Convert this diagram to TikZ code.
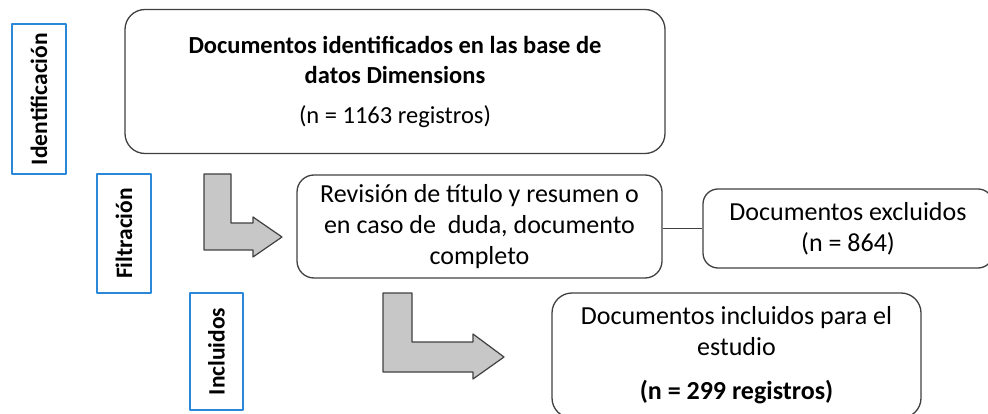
\documentclass[tikz,border=0pt]{standalone}
\usepackage{fontspec}
\setmainfont{Carlito}
\definecolor{azul}{HTML}{2B87D8}
\begin{document}
\begin{tikzpicture}[x=1pt, y=-1pt, line join=round,
	caja/.style={draw=black!75, line width=1.3pt, rounded corners=20pt, align=center, inner sep=0pt, font=\fontsize{26}{31}\selectfont},
	etiqueta/.style={draw=azul, line width=1.2pt, rotate=90, inner sep=0pt, font=\bfseries\fontsize{23.5}{26}\selectfont},
	flecha/.style={draw=black!75, fill=black!22, line width=1.2pt}]
	\useasboundingbox (0,0) rectangle (988,414);
	\clip (0,0) rectangle (988,414);
	\node[etiqueta, minimum width=150pt, minimum height=54pt] (ident) at (39,99) {Identificación};
	\node[etiqueta, minimum width=119pt, minimum height=54pt] (filt) at (124,233.5) {Filtración};
	\node[etiqueta, minimum width=117pt, minimum height=53pt] (incl) at (216.5,351.5) {Incluidos};
	\node[caja, font=\fontsize{24.5}{30}\selectfont, minimum width=540pt, minimum height=144pt] (identificados) at (395,81.5) {\textbf{Documentos identificados en las base de}\\\textbf{datos Dimensions}\\[10pt](n = 1163 registros)};
	\node[caja, rounded corners=17pt, minimum width=365pt, minimum height=103pt] (revision) at (479.5,226.5) {Revisión de título y resumen o\\en caso de\ \ duda, documento\\completo};
	\node[caja, rounded corners=15pt, minimum width=290pt, minimum height=79pt] (excluidos) at (848,228.5) {Documentos excluidos\\(n = 864)};
	\node[caja, rounded corners=20pt, minimum width=369pt, minimum height=125pt] (incluidos) at (736.5,355.5) {Documentos incluidos para el\\estudio\\[13pt]\textbf{(n = 299 registros)}};
	\draw[line width=1.2pt, black!75] (revision.east |- excluidos.west) -- (excluidos.west);
	\draw[flecha] (204,174)--(231,174)--(231,223)--(253,223)--(253,217)--(282,237)--(253,257)--(253,250)--(204,250)--cycle;
	\draw[flecha] (383,293)--(412,293)--(412,342)--(473,342)--(473,334)--(504,357)--(473,379)--(473,372)--(383,372)--cycle;
\end{tikzpicture}
\end{document}
